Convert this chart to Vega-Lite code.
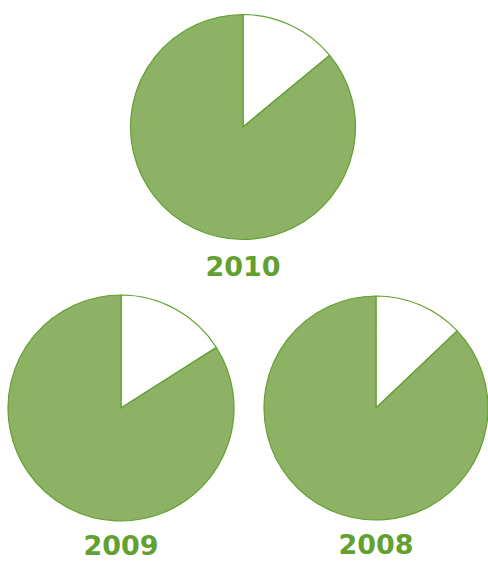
{
  "$schema": "https://vega.github.io/schema/vega-lite/v6.json",
  "padding": 0,
  "background": "white",
  "config": {"view": {"stroke": null}, "concat": {"spacing": 11}},
  "datasets": {
    "shares": [
      {"year": "2010", "part": "A", "ord": 1, "value": 14},
      {"year": "2010", "part": "B", "ord": 2, "value": 86},
      {"year": "2009", "part": "A", "ord": 1, "value": 16},
      {"year": "2009", "part": "B", "ord": 2, "value": 84},
      {"year": "2008", "part": "A", "ord": 1, "value": 12.9},
      {"year": "2008", "part": "B", "ord": 2, "value": 87.1}
    ]
  },
  "vconcat": [
    {
      "width": 486,
      "height": 254,
      "data": {"name": "shares"},
      "transform": [{"filter": "datum.year === '2010'"}],
      "title": {"text": "2010", "orient": "bottom", "font": "DejaVu Sans", "fontSize": 27, "fontWeight": "bold", "color": "#62a02f", "offset": 1},
      "mark": {"type": "arc", "radius": 112.5, "stroke": "#62a02f", "strokeWidth": 1.2},
      "encoding": {
        "theta": {"field": "value", "type": "quantitative", "stack": true},
        "order": {"field": "ord", "type": "quantitative"},
        "color": {"field": "part", "type": "nominal", "legend": null, "scale": {"domain": ["A", "B"], "range": ["#ffffff", "#8db165"]}}
      }
    },
    {
      "spacing": 13,
      "hconcat": [
        {
          "width": 242,
          "height": 226,
          "data": {"name": "shares"},
          "transform": [{"filter": "datum.year === '2009'"}],
          "title": {"text": "2009", "orient": "bottom", "font": "DejaVu Sans", "fontSize": 27, "fontWeight": "bold", "color": "#62a02f", "offset": 11},
          "mark": {"type": "arc", "radius": 113, "stroke": "#62a02f", "strokeWidth": 1.2},
          "encoding": {
            "theta": {"field": "value", "type": "quantitative", "stack": true},
            "order": {"field": "ord", "type": "quantitative"},
            "color": {"field": "part", "type": "nominal", "legend": null, "scale": {"domain": ["A", "B"], "range": ["#ffffff", "#8db165"]}}
          }
        },
        {
          "width": 242,
          "height": 226,
          "data": {"name": "shares"},
          "transform": [{"filter": "datum.year === '2008'"}],
          "title": {"text": "2008", "orient": "bottom", "font": "DejaVu Sans", "fontSize": 27, "fontWeight": "bold", "color": "#62a02f", "offset": 11},
          "mark": {"type": "arc", "radius": 112, "stroke": "#62a02f", "strokeWidth": 1.2},
          "encoding": {
            "theta": {"field": "value", "type": "quantitative", "stack": true},
            "order": {"field": "ord", "type": "quantitative"},
            "color": {"field": "part", "type": "nominal", "legend": null, "scale": {"domain": ["A", "B"], "range": ["#ffffff", "#8db165"]}}
          }
        }
      ]
    }
  ]
}
